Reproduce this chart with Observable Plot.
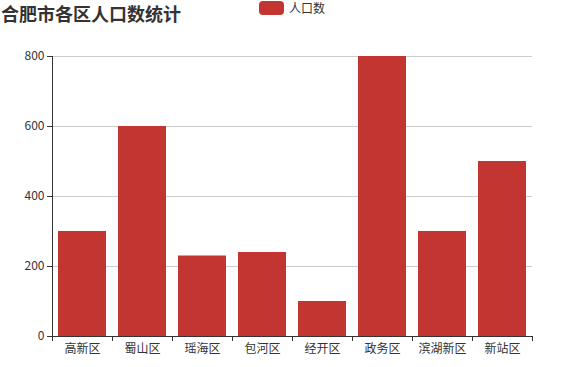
<!DOCTYPE html>
<html>
<head>
<meta charset="utf-8">
<script src="https://cdn.jsdelivr.net/npm/d3@7"></script>
<script src="https://cdn.jsdelivr.net/npm/@observablehq/plot@0.6"></script>
<style>
  body { margin: 0; background: #fff; }
  #wrap { position: relative; width: 565px; height: 367px; overflow: hidden; font-family: "Noto Sans CJK SC", "Noto Sans", sans-serif; color: #333; }
  #title { position: absolute; left: 1px; top: 0px; font-size: 18px; line-height: normal; font-weight: bold; color: #333; white-space: nowrap; }
  #legend { position: absolute; left: 259px; top: 1px; display: flex; align-items: center; font-size: 12px; line-height: 14px; color: #333; }
  #legend .sw { width: 25px; height: 14px; border-radius: 4px; background: #c23531; margin-right: 5px; }
  #chart { position: absolute; left: 0; top: 0; }
</style>
</head>
<body>
<div id="wrap">
  <div id="chart"></div>
  <div id="title">合肥市各区人口数统计</div>
  <div id="legend"><div class="sw"></div><span>人口数</span></div>
</div>
<script>
const categories = ["高新区", "蜀山区", "瑶海区", "包河区", "经开区", "政务区", "滨湖新区", "新站区"];
const population = [300, 600, 230, 240, 100, 800, 300, 500];
const yTicks = [0, 200, 400, 600, 800];

const data = categories.map((c, i) => ({ i, name: c, value: population[i] }));
const n = categories.length;

const chart = Plot.plot({
  width: 565,
  height: 367,
  marginLeft: 52,
  marginRight: 33,
  marginTop: 56,
  marginBottom: 31,
  style: { fontFamily: "'Noto Sans CJK SC', 'Noto Sans', sans-serif", fontSize: "12px", color: "#333", background: "transparent" },
  x: { type: "linear", domain: [0, n], axis: null },
  y: { domain: [0, 800], axis: null },
  marks: [
    Plot.gridY(yTicks.filter(d => d > 0), { stroke: "#ccc", strokeOpacity: 1 }),
    Plot.rectY(data, { x1: d => d.i + 0.1, x2: d => d.i + 0.9, y: "value", fill: "#c23531" }),
    Plot.axisY({ ticks: yTicks, tickSize: 5, tickPadding: 3, stroke: "#333", fill: "#333", fontSize: 12, label: null }),
    Plot.ruleX([0], { stroke: "#333" }),
    Plot.ruleY([0], { stroke: "#333" }),
    Plot.axisX({ ticks: d3.range(n + 1), tickSize: 5, tickFormat: () => "", stroke: "#333", label: null }),
    Plot.text(data, { x: d => d.i + 0.5, y: 0, text: "name", dy: 13, fill: "#333", fontSize: 12 })
  ]
});
document.getElementById("chart").appendChild(chart);
</script>
</body>
</html>
